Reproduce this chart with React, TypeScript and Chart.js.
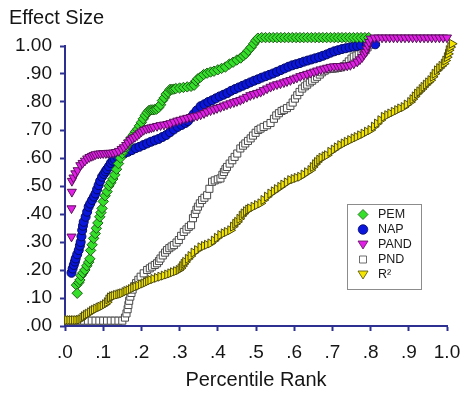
import React, { useEffect, useRef } from 'react';
import { Chart, registerables } from 'chart.js';

Chart.register(...registerables);

// ---------- tick labels ----------
const X_TICK_VALUES = [0, 0.1, 0.2, 0.3, 0.4, 0.5, 0.6, 0.7, 0.8, 0.9, 1.0];
const X_TICK_LABELS = ['.0', '.1', '.2', '.3', '.4', '.5', '.6', '.7', '.8', '.9', '1.0'];
const Y_TICK_VALUES = [0, 0.1, 0.2, 0.3, 0.4, 0.5, 0.6, 0.7, 0.8, 0.9, 1.0];
const Y_TICK_LABELS = ['.00', '.10', '.20', '.30', '.40', '.50', '.60', '.70', '.80', '.90', '1.00'];

const SERIES_LABELS = ['PEM', 'NAP', 'PAND', 'PND', 'R\u00B2'];
const Y_TITLE = 'Effect Size';
const X_TITLE = 'Percentile Rank';

// ---------- PEM ----------
const PEM_X = [
  .030, .032, .036, .039, .042, .047, .052, .057, .062, .065, .067, .071, .075, .079, .082, .086, .091, .094, .097, .100,
  .105, .110, .115, .120, .125, .130, .135, .140, .145, .150, .155, .160, .165, .170, .175, .180, .185, .190, .195, .200,
  .205, .210, .215, .220, .225, .230, .235, .240, .245, .250, .255, .260, .265, .270, .275, .280, .285, .290, .300, .310,
  .320, .330, .338, .343, .348, .355, .363, .372, .381, .390, .400, .410, .420, .430, .440, .450, .460, .467, .473, .480,
  .487, .494, .500, .505,
  .515, .525, .535, .545, .555, .565, .575, .585, .595, .605, .615, .625, .635, .645, .655, .665, .675, .685, .695, .705,
  .715, .725, .735, .745, .755, .765, .775, .785, .795,
];
const PEM_Y = [
  .146, .117, .155, .164, .180, .190, .200, .215, .228, .240, .270, .290, .313, .330, .349, .368, .390, .405, .420, .445,
  .465, .480, .500, .512, .525, .540, .560, .580, .600, .616, .628, .640, .652, .665, .675, .685, .695, .703, .715, .727,
  .740, .752, .762, .770, .772, .772, .773, .775, .780, .790, .805, .815, .828, .835, .845, .845, .846, .848, .850, .852,
  .854, .856, .860, .875, .883, .889, .898, .903, .907, .910, .915, .920, .925, .935, .942, .950, .957, .965, .972, .984,
  .995, 1.008, 1.020, 1.028,
  1.03, 1.03, 1.03, 1.03, 1.03, 1.03, 1.03, 1.03, 1.03, 1.03, 1.03, 1.03, 1.03, 1.03, 1.03, 1.03, 1.03, 1.03, 1.03, 1.03,
  1.03, 1.03, 1.03, 1.03, 1.03, 1.03, 1.03, 1.03, 1.03,
];

// ---------- NAP ----------
const NAP_X = [
  .017, .020, .023, .026, .028, .032, .036, .039, .041, .043, .045, .047, .049, .054, .058, .062, .066, .071, .076, .080,
  .084, .088, .092, .097, .102, .106, .110, .115, .120, .125, .130, .137, .145, .155, .165, .175, .185, .195, .205, .215,
  .225, .235, .245, .255, .265, .275, .285, .295, .305, .315, .322, .330, .337, .345, .355, .365, .375, .385, .395, .405,
  .415, .425, .435, .445, .455, .465, .475, .485, .495, .505, .515, .525, .535, .545, .555, .565, .575, .585, .595, .605,
  .615, .625, .635, .645, .655, .665, .675, .685, .695, .705, .715, .725, .735, .745, .755, .765, .775, .790, .812,
];
const NAP_Y = [
  .190, .205, .218, .230, .241, .256, .271, .287, .300, .320, .342, .358, .372, .390, .408, .426, .437, .450, .462, .473,
  .488, .503, .518, .533, .543, .552, .560, .570, .582, .590, .596, .604, .610, .616, .622, .628, .635, .640, .646, .652,
  .658, .663, .668, .675, .682, .692, .702, .711, .718, .725, .732, .745, .757, .770, .785, .792, .800, .806, .813, .820,
  .826, .832, .840, .846, .852, .858, .864, .870, .876, .881, .887, .892, .897, .902, .908, .914, .920, .926, .931, .935,
  .939, .944, .948, .952, .956, .960, .965, .970, .976, .981, .985, .989, .992, .995, .998, 1.000, 1.002, 1.004, 1.006,
];

// ---------- PAND ----------
const PAND_X = [
  .017, .017, .018, .018, .022, .027, .033, .040, .046, .052, .058, .064, .070, .075, .080, .087, .093, .100, .107, .113,
  .119, .126, .133, .141, .148, .154, .160, .165, .171, .177, .183, .189, .195, .200, .206, .213, .220, .226, .232, .241,
  .250, .259, .268, .276, .285, .294, .302, .311, .320, .329, .338, .346, .355, .364, .372, .381, .390, .398, .407, .416,
  .424, .433, .442, .450, .459, .467, .476, .485, .494, .503, .512, .520, .529, .538, .546, .555, .564, .573, .581, .590,
  .599, .607, .616, .625, .634, .643, .652, .660, .669, .678, .686, .695, .704, .713, .721, .730, .739, .747, .756, .765,
  .772, .778, .783, .787, .790, .793, .796, .800,
  .810, .820, .830, .840, .850, .860, .870, .880, .890, .900, .910, .920, .930, .940, .950, .960, .970, .980, .990, 1.000,
];
const PAND_Y = [
  .319, .420, .479, .518, .530, .545, .556, .574, .582, .590, .598, .603, .607, .610, .613, .615, .616, .617, .617, .618,
  .618, .619, .621, .625, .632, .638, .646, .655, .664, .670, .675, .681, .688, .694, .700, .704, .707, .709, .711, .714,
  .717, .719, .721, .724, .729, .733, .736, .740, .743, .746, .749, .751, .755, .760, .766, .770, .774, .778, .782, .787,
  .791, .795, .799, .803, .807, .812, .818, .824, .828, .832, .836, .842, .848, .854, .859, .863, .866, .870, .874, .878,
  .883, .887, .892, .896, .900, .904, .908, .912, .916, .919, .922, .925, .927, .928, .928, .929, .930, .932, .937, .944,
  .952, .960, .970, .978, .990, 1.002, 1.014, 1.026,
  1.03, 1.03, 1.03, 1.03, 1.03, 1.03, 1.03, 1.03, 1.03, 1.03, 1.03, 1.03, 1.03, 1.03, 1.03, 1.03, 1.03, 1.03, 1.03, 1.03,
];

// ---------- PND ----------
const PND_X = [
  .010, .020, .030, .040, .050, .060, .070, .080, .090, .100, .110, .120, .130, .140, .150,
  .157, .161, .164, .166, .168, .171, .174, .177, .181, .186, .192, .198, .206, .215, .222, .228, .235, .241, .246, .250,
  .256, .262, .267, .273, .279, .285, .292, .298, .304, .311, .318, .324, .330, .335, .340, .344, .348, .353, .359, .365,
  .372, .378, .385, .392, .400, .407, .412, .416, .420, .424, .431, .438, .444, .451, .459, .466, .472, .479, .486, .492,
  .499, .506, .512, .520, .529, .538, .547, .553, .560, .567, .573, .581, .590, .596, .602, .608, .614, .621, .628, .634,
  .641, .647, .654, .660, .667, .673, .680, .686, .694, .701, .708, .716, .723, .730, .737, .743, .750, .756, .763, .769,
  .776, .782, .787, .792, .797,
];
const PND_Y = [
  .019, .019, .019, .019, .019, .019, .019, .019, .019, .019, .019, .019, .019, .019, .019,
  .030, .045, .060, .075, .090, .105, .118, .130, .142, .153, .165, .176, .188, .200, .206, .212, .218, .224, .232, .241,
  .252, .262, .271, .278, .284, .289, .298, .307, .322, .336, .345, .354, .360, .385, .400, .415, .426, .438, .450, .458,
  .467, .490, .515, .520, .524, .527, .540, .550, .560, .568, .580, .592, .604, .616, .634, .644, .652, .661, .670, .680,
  .690, .700, .705, .711, .717, .725, .740, .752, .760, .768, .772, .778, .786, .798, .812, .824, .836, .848, .856, .862,
  .870, .876, .883, .890, .898, .906, .912, .917, .918, .919, .920, .922, .924, .928, .936, .945, .955, .962, .966, .970,
  .974, .978, .985, .995, 1.005,
];

// ---------- R² ----------
const R2_X = [
  .006, .012, .018, .024, .030, .036, .041, .046, .050, .055, .060, .066, .071, .076, .082, .088, .093, .099, .105, .110,
  .114, .118, .123, .128, .134, .140, .145, .150, .156, .161, .167, .173, .179, .185, .192, .199, .206, .212, .218, .224,
  .232, .241, .250, .259, .268, .276, .283, .291, .298, .303, .307, .311, .315, .322, .329, .337, .346, .355, .364, .372,
  .381, .390, .398, .407, .416, .424, .433, .440, .446, .451, .457, .463, .468, .474, .480, .485, .494, .503, .512, .520,
  .529, .538, .547, .555, .564, .572, .581, .590, .599, .607, .616, .625, .634, .643, .649, .655, .660, .666, .672, .680,
  .686, .695, .704, .712, .721, .730, .738, .747, .756, .764, .773, .782, .791, .800, .809, .817, .826, .835, .844, .852,
  .861, .870, .878, .887, .895, .904, .910, .916, .922, .928, .934, .939, .945, .951, .957, .963, .968, .974, .980, .986,
  .992, .996, 1.000, 1.003, 1.005, 1.009, 1.013,
];
const R2_Y = [
  .021, .021, .021, .021, .021, .022, .024, .030, .035, .040, .044, .049, .054, .058, .062, .066, .069, .073, .078, .085,
  .095, .102, .106, .108, .111, .113, .115, .117, .121, .125, .128, .132, .136, .140, .144, .148, .152, .156, .160, .164,
  .168, .172, .176, .180, .184, .188, .192, .196, .200, .206, .214, .222, .229, .240, .250, .262, .271, .281, .286, .290,
  .295, .305, .315, .325, .331, .336, .342, .355, .365, .372, .383, .394, .402, .410, .416, .420, .426, .432, .438, .450,
  .462, .473, .481, .489, .497, .505, .513, .521, .525, .529, .533, .541, .549, .557, .568, .578, .586, .594, .601, .606,
  .610, .622, .630, .638, .646, .652, .658, .664, .670, .675, .681, .687, .694, .700, .712, .723, .735, .747, .753, .759,
  .765, .771, .777, .782, .791, .800, .810, .820, .830, .838, .846, .854, .862, .870, .878, .890, .901, .913, .921, .929,
  .937, .948, .960, .972, .985, .996, 1.008,
];

const FONT = '"Liberation Sans", Arial, Helvetica, sans-serif';
const AXIS_COLOR = '#2d3090';

function toPoints(xs: number[], ys: number[]) {
  return xs.map((x, i) => ({ x, y: ys[i] }));
}

type Shape = 'diamond' | 'circle' | 'triDown' | 'square';
const LEGEND_SHAPES: Shape[] = ['diamond', 'circle', 'triDown', 'square', 'triDown'];

function drawLegendMarker(ctx: CanvasRenderingContext2D, shape: Shape, x: number, y: number, fill: string, stroke: string) {
  ctx.beginPath();
  if (shape === 'diamond') {
    const r = 5;
    ctx.moveTo(x, y - r);
    ctx.lineTo(x + r, y);
    ctx.lineTo(x, y + r);
    ctx.lineTo(x - r, y);
    ctx.closePath();
  } else if (shape === 'circle') {
    ctx.arc(x, y, 4.8, 0, Math.PI * 2);
  } else if (shape === 'triDown') {
    ctx.moveTo(x - 5, y - 3.5);
    ctx.lineTo(x + 5, y - 3.5);
    ctx.lineTo(x, y + 4.5);
    ctx.closePath();
  } else {
    ctx.rect(x - 3.5, y - 3.5, 7, 7);
  }
  ctx.fillStyle = fill;
  ctx.fill();
  ctx.lineWidth = 0.8;
  ctx.strokeStyle = stroke;
  ctx.stroke();
}

// y axis line drawn from value 0 to value 1 only (the scale itself runs a little higher
// so that the top row of markers is not culled)
const yAxisLine = {
  id: 'yAxisLine',
  beforeDatasetsDraw(chart: any) {
    const { ctx, chartArea, scales } = chart;
    const y0 = scales.y.getPixelForValue(0);
    const y1 = scales.y.getPixelForValue(1);
    ctx.save();
    ctx.strokeStyle = AXIS_COLOR;
    ctx.lineWidth = 2;
    ctx.beginPath();
    ctx.moveTo(chartArea.left, y0 + 1);
    ctx.lineTo(chartArea.left, y1 - 1);
    ctx.stroke();
    ctx.restore();
  },
};

const boxLegend = {
  id: 'boxLegend',
  afterDraw(chart: any) {
    const ctx: CanvasRenderingContext2D = chart.ctx;
    ctx.save();
    const bx = 347.5, by = 204.5, bw = 74, bh = 85;
    ctx.fillStyle = '#ffffff';
    ctx.fillRect(bx, by, bw, bh);
    ctx.strokeStyle = '#8c8c8c';
    ctx.lineWidth = 1;
    ctx.strokeRect(bx, by, bw, bh);
    chart.data.datasets.forEach((ds: any, i: number) => {
      const cy = 214.5 + i * 15;
      drawLegendMarker(ctx, LEGEND_SHAPES[i], 363, cy, ds.backgroundColor, ds.borderColor);
      ctx.fillStyle = '#1a1a1a';
      ctx.font = `12.5px ${FONT}`;
      ctx.textAlign = 'left';
      ctx.textBaseline = 'middle';
      ctx.fillText(ds.label, 378, cy + 0.5);
    });
    ctx.restore();
  },
};

export default function App() {
  const canvasRef = useRef<HTMLCanvasElement | null>(null);

  useEffect(() => {
    document.body.style.margin = '0';
    const canvas = canvasRef.current;
    if (!canvas) return;

    const common = { clip: false as const, borderWidth: 1, showLine: false };

    const chart = new Chart(canvas, {
      type: 'scatter',
      data: {
        datasets: [
          {
            ...common,
            label: SERIES_LABELS[0],
            data: toPoints(PEM_X, PEM_Y),
            pointStyle: 'rectRot',
            pointRadius: 5.2,
            backgroundColor: '#35e02a',
            borderColor: '#1d5c16',
            order: 2,
          },
          {
            ...common,
            label: SERIES_LABELS[1],
            data: toPoints(NAP_X, NAP_Y),
            pointStyle: 'circle',
            pointRadius: 4.5,
            backgroundColor: '#0a16dc',
            borderColor: '#050a60',
            order: 3,
          },
          {
            ...common,
            label: SERIES_LABELS[2],
            data: toPoints(PAND_X, PAND_Y),
            pointStyle: 'triangle',
            rotation: 180,
            pointRadius: 5.2,
            backgroundColor: '#e21fe6',
            borderColor: '#5a105c',
            order: 1,
          },
          {
            ...common,
            label: SERIES_LABELS[3],
            data: toPoints(PND_X, PND_Y),
            pointStyle: 'rect',
            pointRadius: 5,
            backgroundColor: '#ffffff',
            borderColor: '#4a4a4a',
            order: 4,
          },
          {
            ...common,
            label: SERIES_LABELS[4],
            data: toPoints(R2_X, R2_Y),
            pointStyle: 'triangle',
            rotation: 90,
            pointRadius: 5.2,
            backgroundColor: '#f4e600',
            borderColor: '#4d4a10',
            order: 0,
          },
        ],
      },
      options: {
        responsive: false,
        devicePixelRatio: 1,
        animation: false,
        events: [],
        layout: { padding: { left: 9, right: 13, top: 0, bottom: 0 } },
        plugins: {
          legend: { display: false },
          tooltip: { enabled: false },
          title: {
            display: true,
            text: Y_TITLE,
            align: 'start',
            color: '#151515',
            font: { family: FONT, size: 20, weight: 'normal' },
            padding: { top: 6, bottom: 4.8 },
          },
        },
        scales: {
          x: {
            type: 'linear',
            // range fixed after tick building (not via min/max) so that the last
            // markers, which sit just past 1.0, are not dropped
            afterBuildTicks: (scale: any) => {
              scale.ticks = X_TICK_VALUES.map((v) => ({ value: v }));
              scale.min = X_TICK_VALUES[0];
              scale.max = X_TICK_VALUES[X_TICK_VALUES.length - 1];
            },
            afterFit: (scale: any) => {
              scale.height = 69;
              scale.paddingLeft = 0;
              scale.paddingRight = 0;
            },
            ticks: {
              autoSkip: false,
              maxRotation: 0,
              padding: 10,
              color: '#151515',
              font: { family: FONT, size: 19 },
              callback: (_v: any, i: number) => X_TICK_LABELS[i],
            },
            grid: {
              drawOnChartArea: false,
              drawTicks: true,
              tickLength: 5,
              tickWidth: 2,
              tickColor: AXIS_COLOR,
            },
            border: { display: true, color: AXIS_COLOR, width: 2 },
            title: {
              display: true,
              text: X_TITLE,
              color: '#151515',
              font: { family: FONT, size: 20 },
              padding: { top: 0, bottom: 3 },
            },
          },
          y: {
            type: 'linear',
            min: 0,
            max: 1.04,
            afterBuildTicks: (scale: any) => {
              scale.ticks = Y_TICK_VALUES.map((v) => ({ value: v }));
            },
            afterFit: (scale: any) => {
              scale.width = 56;
              scale.paddingTop = 0;
              scale.paddingBottom = 0;
            },
            ticks: {
              autoSkip: false,
              padding: 8,
              color: '#151515',
              font: { family: FONT, size: 19 },
              callback: (_v: any, i: number) => Y_TICK_LABELS[i],
            },
            grid: {
              drawOnChartArea: false,
              drawTicks: true,
              tickLength: 5,
              tickWidth: 2,
              tickColor: AXIS_COLOR,
            },
            border: { display: false },
          },
        },
      },
      plugins: [yAxisLine, boxLegend],
    } as any);

    return () => chart.destroy();
  }, []);

  return (
    <div style={{ position: 'absolute', left: 0, top: 0, width: 460, height: 395, background: '#fff' }}>
      <canvas ref={canvasRef} width={460} height={395} style={{ width: 460, height: 395, display: 'block' }} />
    </div>
  );
}
